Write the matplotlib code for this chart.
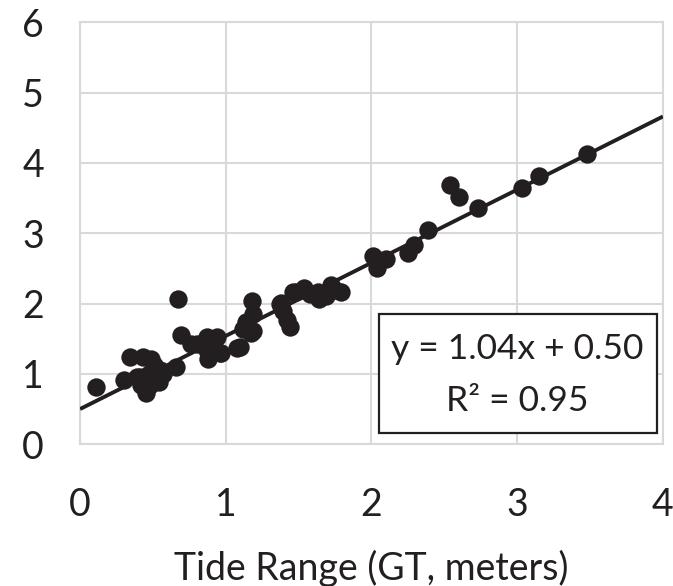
import matplotlib.pyplot as plt
import matplotlib.patches as patches
import numpy as np

plt.rcParams['font.family'] = ['Lato', 'DejaVu Sans']

tide_x = [0.11, 0.30, 0.34, 0.43, 0.45, 0.39, 0.47, 0.51, 0.54, 0.49, 0.42,
          0.57, 0.48, 0.41, 0.53, 0.55, 0.66, 0.67, 0.69, 0.76, 0.80, 0.83,
          0.87, 0.87, 0.88, 0.92, 0.94, 0.96, 0.97, 1.08, 1.10, 1.12, 1.14,
          1.17, 1.18, 1.19, 1.19, 1.37, 1.38, 1.39, 1.42, 1.44, 1.46, 1.48,
          1.54, 1.58, 1.63, 1.64, 1.69, 1.72, 1.75, 1.79, 2.01, 2.04, 2.10,
          2.25, 2.29, 2.39, 2.54, 2.60, 2.73, 3.03, 3.15, 3.48]
tide_y = [0.81, 0.91, 1.24, 1.24, 0.73, 0.95, 1.00, 1.13, 0.89, 1.21, 0.84,
          1.00, 0.84, 0.95, 0.95, 1.05, 1.10, 2.07, 1.55, 1.42, 1.43, 1.42,
          1.34, 1.52, 1.21, 1.37, 1.52, 1.29, 1.29, 1.37, 1.38, 1.64, 1.74,
          1.58, 2.03, 1.85, 1.61, 2.00, 2.01, 1.90, 1.77, 1.66, 2.17, 2.17,
          2.22, 2.14, 2.17, 2.06, 2.11, 2.27, 2.19, 2.17, 2.67, 2.51, 2.64,
          2.72, 2.83, 3.04, 3.68, 3.52, 3.36, 3.65, 3.81, 4.13]

slope, intercept = 1.04, 0.50
r2 = 0.95
xticks = [0, 1, 2, 3, 4]
yticks = [0, 1, 2, 3, 4, 5, 6]

fig = plt.figure(figsize=(6.73, 5.86), dpi=100)
ax = fig.add_axes([0.119, 0.242, 0.866, 0.72])

grid_c = '#d9d9d9'
ax.grid(True, color=grid_c, linewidth=1.5, zorder=0)
for s in ax.spines.values():
    s.set_color(grid_c)
    s.set_linewidth(1.5)

ax.scatter(tide_x, tide_y, s=175, color='#231f20', zorder=3, linewidths=0)

fit_x = np.array([0, 4])
ax.plot(fit_x, slope * fit_x + intercept, color='#231f20', lw=2.8, zorder=4,
        solid_capstyle='butt')

ax.set_xlim(0, 4)
ax.set_ylim(0, 6)
ax.set_xticks(xticks)
ax.set_yticks(yticks)
ax.tick_params(length=0, labelsize=27, colors='#231f20')
ax.tick_params(axis='x', pad=31)
ax.tick_params(axis='y', pad=26)
ax.set_xlabel('Tide Range (GT, meters)', fontsize=27, color='#231f20',
              labelpad=19)

# equation box
ax.add_patch(patches.Rectangle((2.05, 0.16), 1.91, 1.69, fill=True,
                               facecolor='white', edgecolor='#231f20',
                               lw=1.6, zorder=5))
ax.text(3.0, 1.35, f'y = {slope:.2f}x + {intercept:.2f}', fontsize=25.5,
        ha='center', va='center', color='#231f20', zorder=6)
ax.text(3.0, 0.62, f'R² = {r2:.2f}', fontsize=25.5,
        ha='center', va='center', color='#231f20', zorder=6)

plt.savefig('out.png', dpi=100)
